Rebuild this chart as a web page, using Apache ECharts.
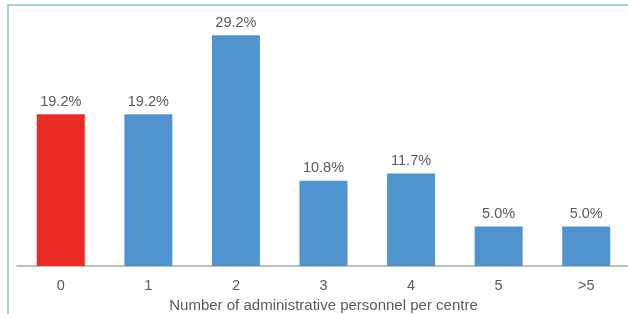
<!DOCTYPE html>
<html>
<head>
<meta charset="utf-8">
<script src="https://cdn.jsdelivr.net/npm/echarts@6/dist/echarts.min.js"></script>
<style>
  html, body { margin: 0; padding: 0; background: #fff; }
  #chartContainer { width: 628px; height: 314px; }
</style>
</head>
<body>
<div id="chartContainer"></div>
<script>
const categories = ["0", "1", "2", "3", "4", "5", ">5"];
const shares = [19.2, 19.2, 29.2, 10.8, 11.7, 5.0, 5.0];
const barColors = ["#ec2c24", "#5094cf", "#5094cf", "#5094cf", "#5094cf", "#5094cf", "#5094cf"];
const axisTitle = "Number of administrative personnel per centre";

const chart = echarts.init(document.getElementById('chartContainer'));

const textColor = '#5a5a5a';
const fontFamily = '"Liberation Sans", Arial, sans-serif';

chart.setOption({
    animation: false,
    textStyle: { fontFamily: fontFamily },
    graphic: [
        // frame lines (top and left) around the chart area
        { type: 'rect', shape: { x: 7, y: 4, width: 621, height: 2 }, style: { fill: '#a6d2d8' } },
        { type: 'rect', shape: { x: 7, y: 4, width: 2, height: 310 }, style: { fill: '#a6d2d8' } }
    ],
    grid: {
        left: 17,
        top: 29,
        width: 613,
        bottom: 48,
        containLabel: false,
        outerBoundsMode: 'none'
    },
    xAxis: {
        type: 'category',
        data: categories,
        axisLine: { lineStyle: { color: '#a8a8a8', width: 1.5 } },
        axisTick: { show: false },
        axisLabel: { color: textColor, fontSize: 14.5, margin: 12 },
        name: axisTitle,
        nameLocation: 'middle',
        nameGap: 30,
        nameTextStyle: { color: textColor, fontSize: 15 }
    },
    yAxis: {
        type: 'value',
        min: 0,
        max: 30,
        show: false
    },
    series: [{
        type: 'bar',
        barWidth: 48,
        data: shares.map((v, i) => ({ value: v, itemStyle: { color: barColors[i] } })),
        label: {
            show: true,
            position: 'top',
            distance: 5,
            color: textColor,
            fontSize: 14.5,
            formatter: p => p.value.toFixed(1) + '%'
        }
    }]
});
</script>
</body>
</html>
